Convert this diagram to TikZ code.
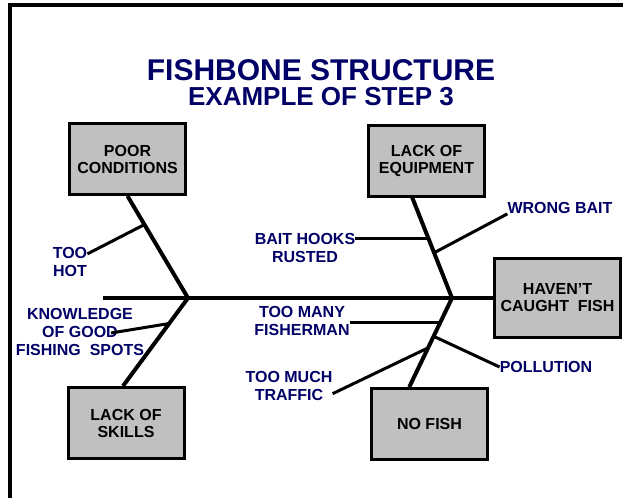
\documentclass[tikz,border=0pt]{standalone}
\usepackage{xcolor}
\usepackage{fontspec}
\setmainfont{Liberation Sans}
\usetikzlibrary{positioning, calc}
\definecolor{navyink}{RGB}{0,0,102}
\definecolor{boxgray}{RGB}{192,192,192}

\begin{document}
\begin{tikzpicture}[x=1pt, y=-1pt,
		causebox/.style={rectangle, draw=black, fill=boxgray, line width=3pt, minimum width=116pt, minimum height=71pt, align=center, inner sep=0pt, font=\fontsize{16}{17}\selectfont\bfseries},
		cause/.style={inner sep=0pt, align=center, text=navyink, font=\fontsize{16}{18}\selectfont\bfseries},
		bone/.style={line width=4pt},
		twig/.style={line width=3pt}
		]
		\useasboundingbox (0,0) rectangle (623,498);
		
		% Frame
		\draw[line width=3.5pt] (10,498) -- (10,5) -- (623,5);
		
		% Title
		\node[inner sep=0pt, text=navyink, font=\fontsize{30}{30}\selectfont\bfseries] (title) at (321,70) {FISHBONE STRUCTURE};
		\node[inner sep=0pt, text=navyink, font=\fontsize{26}{26}\selectfont\bfseries, below=6pt of title] (subtitle) {EXAMPLE OF STEP 3};
		
		% Main categories
		\node[causebox] (poor) at (127.5,159) {POOR\\CONDITIONS};
		\node[causebox] (equip) at (426.5,160.5) {LACK OF\\EQUIPMENT};
		\node[causebox, minimum width=126pt, minimum height=79pt] (caught) at (557.5,298) {HAVEN\char"27T\\CAUGHT\ \ FISH};
		\node[causebox] (skills) at (126,423) {LACK OF\\SKILLS};
		\node[causebox] (nofish) at (429.5,424) {NO FISH};
		
		% Spine
		\coordinate (tail) at (103,298);
		\coordinate (jl) at (188,298);
		\coordinate (jr) at (452,298);
		\draw[bone] (tail) -- (caught.west);
		
		% Bones
		\coordinate (skfoot) at ([xshift=-3pt]skills.north);
		\coordinate (eqfoot) at ($(equip.south west)!0.38!(equip.south east)$);
		\coordinate (nffoot) at ($(nofish.north west)!0.33!(nofish.north east)$);
		\draw[bone] (poor.south) -- (jl) -- (skfoot);
		\draw[bone] (eqfoot) -- (jr) -- (nffoot);
		
		% Joints on the bones
		\coordinate (hotjoin) at ($(poor.south)!0.28!(jl)$);
		\coordinate (spotjoin) at ($(jl)!0.29!(skfoot)$);
		\coordinate (hookjoin) at ($(eqfoot)!0.41!(jr)$);
		\coordinate (baitjoin) at ($(eqfoot)!0.55!(jr)$);
		\coordinate (manyjoin) at ($(jr)!0.27!(nffoot)$);
		\coordinate (polljoin) at ($(jr)!0.43!(nffoot)$);
		\coordinate (trafficjoin) at ($(jr)!0.56!(nffoot)$);
		
		% Causes
		\node[cause] (hot) at (70,262) {TOO\\HOT};
		\node[cause] (spots) at (80,332) {KNOWLEDGE\\OF GOOD\\FISHING\ \ SPOTS};
		\node[cause] (hooks) at (305,248) {BAIT HOOKS\\RUSTED};
		\node[cause] (wrong) at (560,208) {WRONG BAIT};
		\node[cause] (many) at (302,321) {TOO MANY\\FISHERMAN};
		\node[cause] (traffic) at (289,386) {TOO MUCH\\TRAFFIC};
		\node[cause] (pollution) at (546,367) {POLLUTION};
		
		% Twigs
		\coordinate (goodend) at (111,333);
		\draw[twig] (hot.25) -- (hotjoin);
		\draw[twig] (goodend) -- (spotjoin);
		\draw[twig] (hooks.east |- hookjoin) -- (hookjoin);
		\draw[twig] (wrong.south west) -- (baitjoin);
		\draw[twig] (many.east |- manyjoin) -- (manyjoin);
		\draw[twig] (traffic.-10) -- (trafficjoin);
		\draw[twig] (pollution.west) -- (polljoin);
		
	\end{tikzpicture}
\end{document}
